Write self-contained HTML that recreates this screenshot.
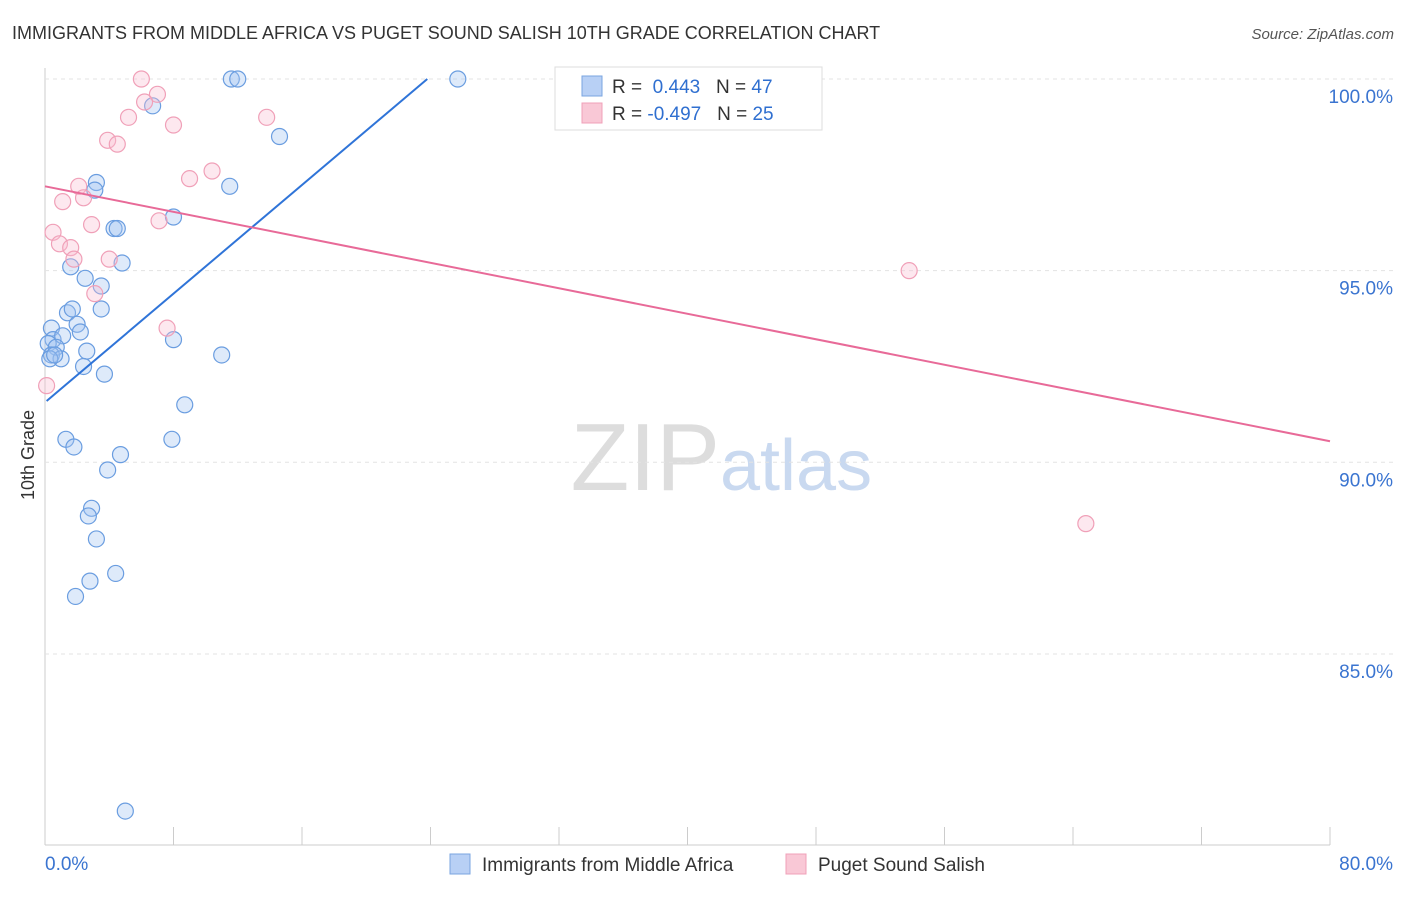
<!DOCTYPE html>
<html><head><meta charset="utf-8"><style>
body{margin:0;background:#fff;font-family:"Liberation Sans",sans-serif}
svg text{font-family:"Liberation Sans",sans-serif}
</style></head><body>
<svg id="c" width="1406" height="892">
<text x="12" y="39" font-size="18" fill="#333">IMMIGRANTS FROM MIDDLE AFRICA VS PUGET SOUND SALISH 10TH GRADE CORRELATION CHART</text>
<text x="1394" y="39" font-size="15" fill="#555" text-anchor="end" font-style="italic">Source: ZipAtlas.com</text>
<text x="720" y="490" font-size="96" fill="#ddd" text-anchor="end" font-family="Liberation Serif">ZIP</text>
<text x="720" y="490" font-size="72" fill="#c9d9f0">atlas</text>
<text transform="translate(34,455) rotate(-90)" font-size="18" fill="#333" text-anchor="middle">10th Grade</text>
<g id="grid"></g><g id="pts"></g><g id="lines"></g>
<g>
<rect x="555" y="67" width="267" height="63" fill="#fff" stroke="#ddd"/>
<rect x="582" y="76" width="20" height="20" fill="#b8d0f5" stroke="#7aa5e0"/>
<rect x="582" y="103" width="20" height="20" fill="#f9c8d6" stroke="#f0a0b8"/>
<text x="612" y="93" font-size="19" fill="#333">R = <tspan fill="#2f6fd0">&#160;0.443</tspan>&#160;&#160;&#160;N = <tspan fill="#2f6fd0">47</tspan></text>
<text x="612" y="120" font-size="19" fill="#333">R = <tspan fill="#2f6fd0">-0.497</tspan>&#160;&#160;&#160;N = <tspan fill="#2f6fd0">25</tspan></text>
</g>
<g>
<rect x="450" y="854" width="20" height="20" fill="#b8d0f5" stroke="#7aa5e0"/>
<text x="482" y="871" font-size="19" fill="#333">Immigrants from Middle Africa</text>
<rect x="786" y="854" width="20" height="20" fill="#f9c8d6" stroke="#f0a0b8"/>
<text x="818" y="871" font-size="19" fill="#333">Puget Sound Salish</text>
</g>
</svg>
<script>
const blueX=[11.6,12.0,25.7,6.7,14.6,3.2,3.1,11.5,8.0,4.3,4.5,4.8,1.6,2.5,3.5,1.4,1.7,3.5,2.0,2.2,0.4,0.5,1.1,0.2,0.7,2.6,0.4,1.0,0.3,2.4,3.7,8.0,11.0,8.7,1.3,1.8,7.9,4.7,3.9,2.9,2.7,3.2,4.4,2.8,1.9,5.0,0.6];
const blueY=[100,100,100,99.3,98.5,97.3,97.1,97.2,96.4,96.1,96.1,95.2,95.1,94.8,94.6,93.9,94.0,94.0,93.6,93.4,93.5,93.2,93.3,93.1,93.0,92.9,92.8,92.7,92.7,92.5,92.3,93.2,92.8,91.5,90.6,90.4,90.6,90.2,89.8,88.8,88.6,88.0,87.1,86.9,86.5,80.9,92.8];
const pinkX=[6.0,7.0,6.2,5.2,8.0,13.8,3.9,4.5,10.4,9.0,2.1,2.4,1.1,2.9,7.1,0.5,0.9,1.6,1.8,4.0,3.1,7.6,0.1,53.8,64.8];
const pinkY=[100,99.6,99.4,99.0,98.8,99.0,98.4,98.3,97.6,97.4,97.2,96.9,96.8,96.2,96.3,96.0,95.7,95.6,95.3,95.3,94.4,93.5,92.0,95.0,88.4];
const blueLine=[[0.1,91.6],[23.8,100]];
const pinkLine=[[0,97.2],[80,90.55]];
const yTicks=[100,95,90,85];
const xTicks=[0,8,16,24,32,40,48,56,64,72,80];
const X=v=>45+v*(1285/80), Y=v=>79+(100-v)*38.33;
const ns="http://www.w3.org/2000/svg";
function mk(p,t,a){const e=document.createElementNS(ns,t);for(const k in a)e.setAttribute(k,a[k]);document.getElementById(p).appendChild(e);return e;}
const s=document.getElementById('c');
let ax=mk('grid','line',{x1:45,x2:45,y1:68,y2:845,stroke:'#ccc'});

let bx=mk('grid','line',{x1:45,x2:1330,y1:845,y2:845,stroke:'#ccc'});

yTicks.forEach(v=>{const g=mk('grid','line',{x1:45,x2:1394,y1:Y(v),y2:Y(v),stroke:'#e3e3e3','stroke-dasharray':'4,4'});

const t=mk('grid','text',{x:1393,y:Y(v)+24,'font-size':19,fill:'#3a74d0','text-anchor':'end'});t.textContent=v.toFixed(1)+'%';
});
xTicks.forEach(v=>{const l=mk('grid','line',{x1:X(v),x2:X(v),y1:827,y2:845,stroke:'#ccc'});
});
[[0,'0.0%',45,'start'],[80,'80.0%',1393,'end']].forEach(a=>{const t=mk('grid','text',{x:a[2],y:870,'font-size':19,fill:'#3a74d0','text-anchor':a[3]});t.textContent=a[1];
});
blueX.forEach((v,i)=>{const c=mk('pts','circle',{cx:X(v),cy:Y(blueY[i]),r:8,fill:'rgba(160,195,240,0.35)',stroke:'#6a9de0','stroke-width':1.2});
});
pinkX.forEach((v,i)=>{const c=mk('pts','circle',{cx:X(v),cy:Y(pinkY[i]),r:8,fill:'rgba(248,190,210,0.35)',stroke:'#f0a0b8','stroke-width':1.2});
});
const b=mk('lines','line',{x1:X(blueLine[0][0]),y1:Y(blueLine[0][1]),x2:X(blueLine[1][0]),y2:Y(blueLine[1][1]),stroke:'#2f74d8','stroke-width':2});

const p=mk('lines','line',{x1:X(pinkLine[0][0]),y1:Y(pinkLine[0][1]),x2:X(pinkLine[1][0]),y2:Y(pinkLine[1][1]),stroke:'#e86a98','stroke-width':2});

</script>
</body></html>
